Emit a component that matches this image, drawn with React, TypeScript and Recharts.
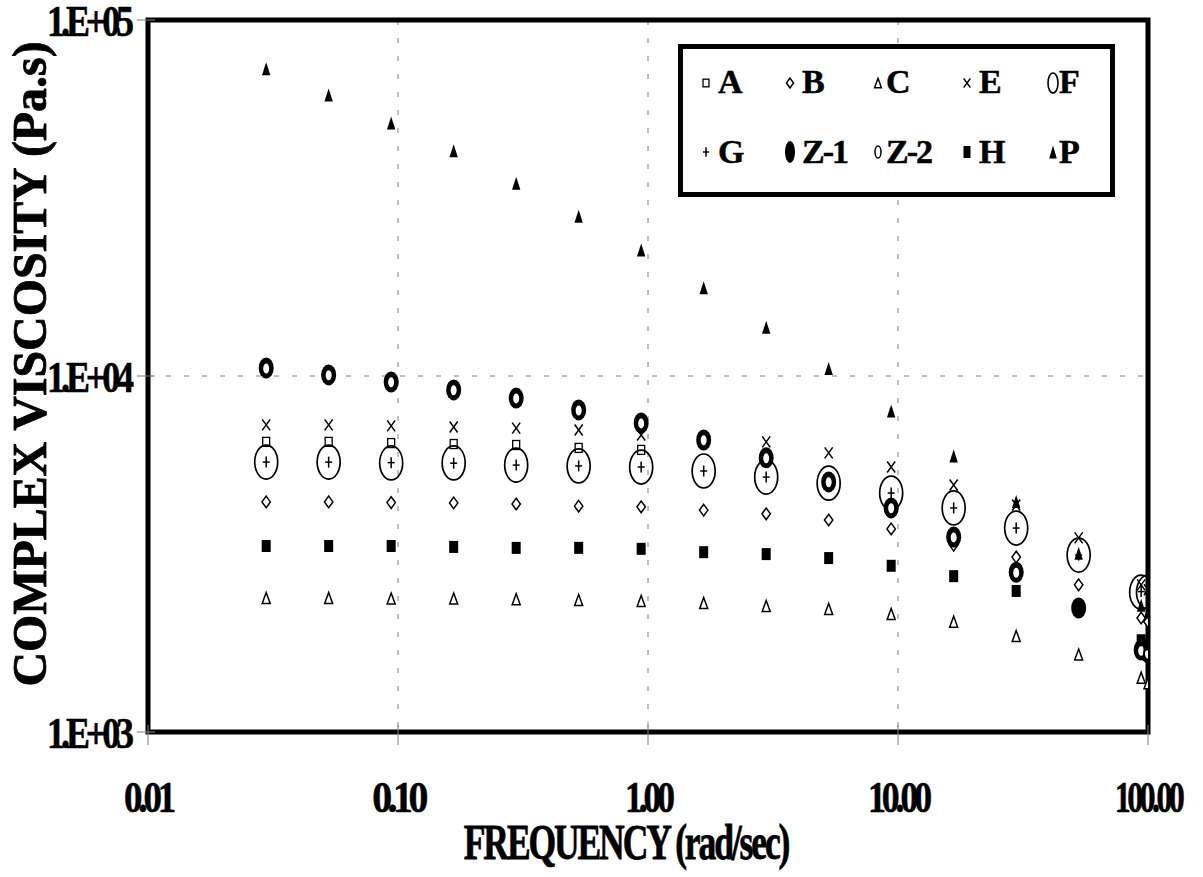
import React from 'react'
import {
  ScatterChart, Scatter, XAxis, YAxis, CartesianGrid, ReferenceArea, Legend,
} from 'recharts'

// frequency sweep (rad/sec) shared by every sample
const FREQUENCY = [0.0297, 0.0528, 0.0939, 0.167, 0.297, 0.528, 0.939, 1.67, 2.97, 5.28, 9.39, 16.7, 29.7, 52.8, 93.9, 100]

// complex viscosity (Pa.s); A is only visible up to 1 rad/sec
const VISC_A = [6530, 6530, 6480, 6440, 6400, 6280, 6200]
const VISC_B = [4430, 4430, 4410, 4400, 4370, 4310, 4290, 4200, 4100, 3940, 3720, 3350, 3100, 2590, 2090, 2040]
const VISC_C = [2380, 2380, 2370, 2370, 2360, 2350, 2335, 2305, 2260, 2215, 2145, 2040, 1860, 1650, 1420, 1370]
const VISC_E = [7290, 7290, 7240, 7190, 7140, 7050, 6830, 6700, 6530, 6080, 5550, 4940, 4340, 3510, 2590, 2510]
const VISC_F = [5730, 5730, 5700, 5700, 5620, 5590, 5550, 5410, 5200, 5000, 4690, 4260, 3740, 3140, 2470, 2470]
const VISC_G = [5730, 5730, 5710, 5690, 5620, 5590, 5550, 5410, 5200, 5010, 4690, 4260, 3740, 3140, 2480, 2470]
const VISC_Z1 = [10530, 10070, 9620, 9140, 8670, 8030, 7380, 6610, 5890, 5040, 4260, 3530, 2810, 2230, 1700, 1670]
const VISC_Z2 = [10500, 10050, 9600, 9120, 8650, 8000, 7360, 6600, 5870, 5030, 4250, 3520, 2800, 2190, 1690, 1660]
const VISC_H = [3330, 3330, 3330, 3310, 3290, 3290, 3270, 3200, 3160, 3080, 2930, 2740, 2490, 2200, 1810, 1760]
const VISC_P = [72900, 61600, 51400, 42900, 34800, 28100, 22600, 17700, 13700, 10500, 7970, 5960, 4440, 3180, 2270, 2170]

const X_TICKS = [0.01, 0.1, 1, 10, 100]
const X_TICK_LABELS = ['0.01', '0.10', '1.00', '10.00', '100.00']
const Y_TICKS = [1000, 10000, 100000]
const Y_TICK_LABELS = ['1.E+03', '1.E+04', '1.E+05']

type Kind = 'square' | 'diamond' | 'triangle' | 'cross' | 'bigCircle' | 'plus' | 'dot' | 'ring' | 'block' | 'wedge'

const SERIES: { name: string; kind: Kind; values: number[] }[] = [
  { name: 'A', kind: 'square', values: VISC_A },
  { name: 'B', kind: 'diamond', values: VISC_B },
  { name: 'C', kind: 'triangle', values: VISC_C },
  { name: 'E', kind: 'cross', values: VISC_E },
  { name: 'F', kind: 'bigCircle', values: VISC_F },
  { name: 'G', kind: 'plus', values: VISC_G },
  { name: 'Z-1', kind: 'dot', values: VISC_Z1 },
  { name: 'Z-2', kind: 'ring', values: VISC_Z2 },
  { name: 'H', kind: 'block', values: VISC_H },
  { name: 'P', kind: 'wedge', values: VISC_P },
]

const FONT = '"Liberation Serif", "Times New Roman", serif'

// squeezed bold labels, like the old spreadsheet output
const X_LABEL_WIDTH = [52, 56, 50, 64, 70]
const Y_LABEL_WIDTH = 87

let measureCtx: CanvasRenderingContext2D | null = null
function naturalWidth(s: string, size: number) {
  if (!measureCtx) measureCtx = document.createElement('canvas').getContext('2d')
  if (!measureCtx) return s.length * size * 0.5
  measureCtx.font = `bold ${size}px ${FONT}`
  return measureCtx.measureText(s).width
}

function Squeezed({ x, y, text, size, width, anchor = 'middle', spacing = 0, rotate = 0, stroke = 0.6 }: {
  x: number; y: number; text: string; size: number; width: number
  anchor?: 'start' | 'middle' | 'end'; spacing?: number; rotate?: number; stroke?: number
}) {
  const natural = naturalWidth(text, size) + spacing * (text.length - 1)
  const sx = width / natural
  const tr = `translate(${x} ${y})${rotate ? ` rotate(${rotate})` : ''} scale(${sx} 1)`
  return (
    <text transform={tr} textAnchor={anchor} fontFamily={FONT} fontWeight="bold" fontSize={size}
      letterSpacing={spacing} fill="#000" stroke="#000" strokeWidth={stroke}>
      {text}
    </text>
  )
}

function drawMarker(kind: Kind, cx: number, cy: number, inLegend = false) {
  const k = inLegend ? 0.85 : 1
  switch (kind) {
    case 'square': {
      const w = 7 * k, h = 9 * k
      return <rect x={cx - w / 2} y={cy - h / 2} width={w} height={h} fill="#fff" stroke="#000" strokeWidth={1.3} />
    }
    case 'diamond': {
      const w = 4.2 * k, h = 5.8 * k
      return <polygon points={`${cx},${cy - h} ${cx + w},${cy} ${cx},${cy + h} ${cx - w},${cy}`} fill="#fff" stroke="#000" strokeWidth={1.5} />
    }
    case 'triangle': {
      const w = 4 * k, h = 5.5 * k
      return <polygon points={`${cx},${cy - h} ${cx + w},${cy + h} ${cx - w},${cy + h}`} fill="#fff" stroke="#000" strokeWidth={1.5} />
    }
    case 'cross': {
      const w = 4 * k, h = 5.5 * k
      return (
        <g stroke="#000" strokeWidth={1.5}>
          <line x1={cx - w} y1={cy - h} x2={cx + w} y2={cy + h} />
          <line x1={cx - w} y1={cy + h} x2={cx + w} y2={cy - h} />
        </g>
      )
    }
    case 'bigCircle':
      return inLegend
        ? <ellipse cx={cx} cy={cy} rx={5} ry={10} fill="none" stroke="#000" strokeWidth={1.6} />
        : <ellipse cx={cx} cy={cy} rx={11.5} ry={17} fill="none" stroke="#000" strokeWidth={1.7} />
    case 'plus': {
      const w = 3.5 * k, h = 5.5 * k
      return (
        <g stroke="#000" strokeWidth={1.5}>
          <line x1={cx - w} y1={cy} x2={cx + w} y2={cy} />
          <line x1={cx} y1={cy - h} x2={cx} y2={cy + h} />
        </g>
      )
    }
    case 'dot':
      return inLegend
        ? <ellipse cx={cx} cy={cy} rx={5} ry={11} fill="#000" />
        : <ellipse cx={cx} cy={cy} rx={7.5} ry={10.5} fill="#000" />
    case 'ring':
      return inLegend
        ? <ellipse cx={cx} cy={cy} rx={3} ry={6} fill="#fff" stroke="#000" strokeWidth={1.5} />
        : <ellipse cx={cx} cy={cy} rx={4} ry={6} fill="#fff" stroke="#000" strokeWidth={2} />
    case 'block': {
      const w = inLegend ? 7 : 9, h = 12
      return <rect x={cx - w / 2} y={cy - h / 2} width={w} height={h} fill="#000" />
    }
    case 'wedge': {
      const w = inLegend ? 3.8 : 4.2, h = 6.5
      return <polygon points={`${cx},${cy - h} ${cx + w},${cy + h} ${cx - w},${cy + h}`} fill="#000" />
    }
  }
  return null
}

// legend layout: 5 columns x 2 rows
const LEG_MARK_X = [28, 112, 200, 289, 375]
const LEG_TEXT_X = [40, 124, 208, 301, 381]
const LEG_MARK_Y = [39, 108]
const LEG_TEXT_Y = [49, 119]

function LegendBox() {
  return (
    <svg width={437} height={153} style={{ display: 'block' }}>
      <rect x={2.5} y={2.5} width={432} height={148} fill="#fff" stroke="#000" strokeWidth={5} />
      {SERIES.map((s, i) => {
        const col = i % 5
        const row = Math.floor(i / 5)
        return (
          <g key={s.name}>
            {drawMarker(s.kind, LEG_MARK_X[col], LEG_MARK_Y[row], true)}
            <text x={LEG_TEXT_X[col]} y={LEG_TEXT_Y[row]} fontFamily={FONT} fontWeight="bold" fontSize={34}
              letterSpacing={s.name.length > 1 ? -2 : 0} fill="#000" stroke="#000" strokeWidth={0.5}>
              {s.name}
            </text>
          </g>
        )
      })}
    </svg>
  )
}

function XTick(props: any) {
  const { x, y, payload } = props
  const idx = X_TICKS.indexOf(payload.value)
  return (
    <g>
      <line x1={x} y1={y - 7} x2={x} y2={y + 13} stroke="#808080" strokeWidth={1} />
      <Squeezed x={x} y={y + 80} text={X_TICK_LABELS[idx]} size={44} width={X_LABEL_WIDTH[idx]} spacing={-5} />
    </g>
  )
}

function YTick(props: any) {
  const { x, y, payload } = props
  const label = Y_TICK_LABELS[Y_TICKS.indexOf(payload.value)]
  return (
    <g>
      <line x1={x - 11} y1={y} x2={x + 7} y2={y} stroke="#808080" strokeWidth={1} />
      <Squeezed x={x - 18} y={y + 16} text={label} size={44} width={Y_LABEL_WIDTH} anchor="end" spacing={-5} />
    </g>
  )
}

export default function App() {
  return (
    <div style={{ position: 'absolute', left: 0, top: 0, background: '#fff' }}>
      <ScatterChart width={1203} height={877} margin={{ top: 20, right: 55, bottom: 0, left: 0 }}>
        <CartesianGrid stroke="#808080" strokeDasharray="5 13" />
        <XAxis
          type="number" dataKey="x" scale="log" domain={[0.01, 100]} ticks={X_TICKS}
          allowDataOverflow height={145} axisLine={false} tickLine={false} tickSize={0} tickMargin={0}
          tick={<XTick />} interval={0}
          label={{
            content: (p: any) => {
              const vb = p.viewBox
              return (
                <Squeezed x={vb.x + vb.width / 2 - 22} y={vb.y + 127} text="FREQUENCY (rad/sec)"
                  size={50} width={328} spacing={-3} stroke={0.8} />
              )
            },
          }}
        />
        <YAxis
          type="number" dataKey="y" scale="log" domain={[1000, 100000]} ticks={Y_TICKS}
          allowDataOverflow width={148} axisLine={false} tickLine={false} tickSize={0} tickMargin={0}
          tick={<YTick />} interval={0}
          label={{
            content: (p: any) => {
              const vb = p.viewBox
              return (
                <Squeezed x={vb.x + 46} y={vb.y + vb.height / 2 - 12} text="COMPLEX VISCOSITY (Pa.s)"
                  size={49} width={648} rotate={-90} stroke={0.8} />
              )
            },
          }}
        />
        <ReferenceArea x1={0.01} x2={100} y1={1000} y2={100000} fill="none" stroke="#000" strokeWidth={5} />
        {SERIES.map((s) => (
          <Scatter
            key={s.name}
            name={s.name}
            data={s.values.map((v, i) => ({ x: FREQUENCY[i], y: v }))}
            isAnimationActive={false}
            shape={(p: any) => <g>{drawMarker(s.kind, p.cx, p.cy)}</g>}
          />
        ))}
        <Legend
          layout="vertical" align="center" verticalAlign="middle"
          wrapperStyle={{ position: 'absolute', left: 678, top: 44, width: 437, height: 153 }}
          content={() => <LegendBox />}
        />
      </ScatterChart>
    </div>
  )
}
